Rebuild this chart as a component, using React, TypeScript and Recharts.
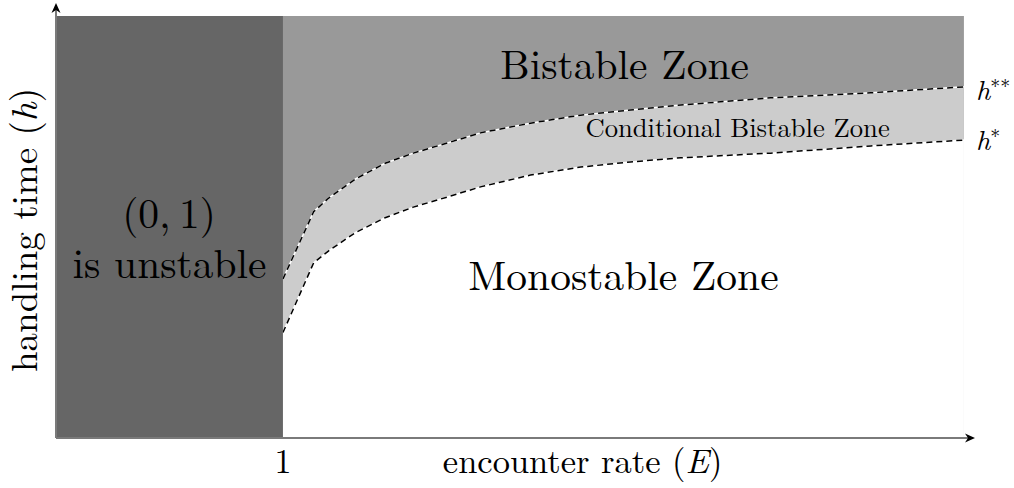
import React from 'react';
import { ComposedChart, Area, Line, XAxis, YAxis, ReferenceArea, ReferenceDot } from 'recharts';

// encounter rate samples (E)
const encounterRate = [1.0, 1.135, 1.2, 1.32, 1.45, 1.574, 1.724, 1.87, 2.09, 2.311, 2.531, 2.752, 3.149, 3.59, 4.0];
// upper threshold h**
const hDoubleStar = [0.377, 0.536, 0.568, 0.614, 0.651, 0.675, 0.699, 0.723, 0.746, 0.765, 0.777, 0.789, 0.806, 0.818, 0.832];
// lower threshold h*
const hStar = [0.25, 0.415, 0.443, 0.487, 0.522, 0.547, 0.571, 0.595, 0.623, 0.642, 0.654, 0.664, 0.675, 0.692, 0.706];
const xTicks = [1];
const topValue = 1;
const eMax = 4.04;
const hMax = 1.026;

const data = encounterRate.map((e, i) => ({ E: e, top: topValue, hss: hDoubleStar[i], hs: hStar[i] }));

const FONT = "'Latin Modern Roman'";

function textAt(key: string, x: number, y: number, content: React.ReactNode, opts: any = {}) {
  const { size = 41.5, anchor = 'middle', rotate = false } = opts;
  return (
    <ReferenceDot
      key={key}
      x={x}
      y={y}
      r={0}
      ifOverflow="visible"
      shape={(p: any) => (
        <text
          x={p.cx}
          y={p.cy}
          style={{ fontFamily: FONT, fontSize: size }}
          fill="#000"
          textAnchor={anchor}
          transform={rotate ? `rotate(-90 ${p.cx} ${p.cy})` : undefined}
        >
          {content}
        </text>
      )}
    />
  );
}

const arrowRight = (p: any) => (
  <path d={`M${p.cx + 2},${p.cy} L${p.cx - 8},${p.cy - 4.5} L${p.cx - 5},${p.cy} L${p.cx - 8},${p.cy + 4.5} Z`} fill="#000" />
);
const arrowUp = (p: any) => (
  <path d={`M${p.cx},${p.cy - 2} L${p.cx - 4.5},${p.cy + 8} L${p.cx},${p.cy + 5} L${p.cx + 4.5},${p.cy + 8} Z`} fill="#000" />
);

export default function App() {
  return (
    <div style={{ position: 'absolute', left: 0, top: 0, width: 1014, height: 488, background: '#fff' }}>
      <ComposedChart width={1014} height={488} data={data} margin={{ top: 5, right: 41, bottom: 0, left: 0 }}>
        <XAxis
          dataKey="E"
          type="number"
          domain={[0, eMax]}
          ticks={xTicks}
          allowDataOverflow
          height={50}
          tickLine={false}
          tickSize={6}
          tickMargin={5}
          axisLine={{ stroke: '#7a7a7a', strokeWidth: 2 }}
          tick={{ style: { fontFamily: FONT, fontSize: 34 }, fill: '#000' }}
        />
        <YAxis
          type="number"
          domain={[0, hMax]}
          allowDataOverflow
          width={56}
          tick={false}
          tickLine={false}
          axisLine={{ stroke: '#7a7a7a', strokeWidth: 2 }}
        />
        <ReferenceArea x1={0} x2={1} y1={0} y2={topValue} fill="#666666" fillOpacity={1} stroke="none" />
        <Area dataKey="top" type="linear" fill="#999999" fillOpacity={1} stroke="none" isAnimationActive={false} />
        <Area dataKey="hss" type="linear" fill="#cccccc" fillOpacity={1} stroke="none" isAnimationActive={false} />
        <Area dataKey="hs" type="linear" fill="#ffffff" fillOpacity={1} stroke="none" isAnimationActive={false} />
        <Line dataKey="hss" type="linear" stroke="#ffffff" strokeWidth={1.5} dot={false} isAnimationActive={false} />
        <Line dataKey="hss" type="linear" stroke="#000000" strokeWidth={1.5} strokeDasharray="6 4" dot={false} isAnimationActive={false} />
        <Line dataKey="hs" type="linear" stroke="#ffffff" strokeWidth={1.5} dot={false} isAnimationActive={false} />
        <Line dataKey="hs" type="linear" stroke="#000000" strokeWidth={1.5} strokeDasharray="6 4" dot={false} isAnimationActive={false} />
        <ReferenceDot x={eMax} y={0} r={0} ifOverflow="visible" shape={arrowRight} />
        <ReferenceDot x={0} y={hMax} r={0} ifOverflow="visible" shape={arrowUp} />
        {textAt('bz', 2.505, 0.851, 'Bistable Zone')}
        {textAt('mz', 2.5, 0.351, 'Monostable Zone')}
        {textAt('cbz', 3.003, 0.713, 'Conditional Bistable Zone', { size: 26.6 })}
        {textAt('u1', 0.498, 0.497, '(0,\u20091)')}
        {textAt('u2', 0.5, 0.379, 'is unstable')}
        {textAt('hss', 4.053, 0.801, <>
          <tspan fontStyle="italic">h</tspan>
          <tspan fontSize={20} dy={-12}>∗∗</tspan>
        </>, { size: 28, anchor: 'start' })}
        {textAt('hs', 4.053, 0.682, <>
          <tspan fontStyle="italic">h</tspan>
          <tspan fontSize={20} dy={-12}>∗</tspan>
        </>, { size: 28, anchor: 'start' })}
        {textAt('xl', 2.32, -0.083, <>
          encounter rate (<tspan fontStyle="italic">E</tspan>)
        </>, { size: 34.5 })}
        {textAt('yl', -0.084, 0.493, <>
          handling time (<tspan fontStyle="italic">h</tspan>)
        </>, { size: 37, rotate: true })}
      </ComposedChart>
    </div>
  );
}
